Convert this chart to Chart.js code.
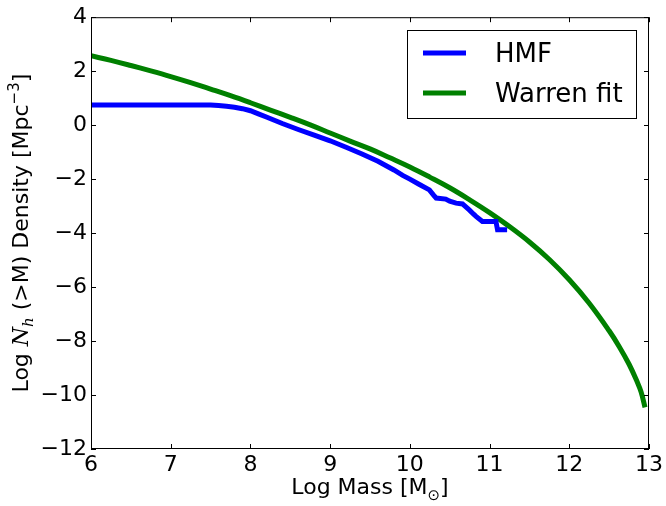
<!DOCTYPE html>
<html>
<head>
<meta charset="utf-8">
<script src="https://cdn.jsdelivr.net/npm/chart.js@4"></script>
<style>
  body { margin: 0; background: #fff; }
  canvas { display: block; }
</style>
</head>
<body>
<canvas id="hmfChart" width="666" height="506"></canvas>
<script>
// HMF (measured) - log mass vs log cumulative density
const hmfMass = [6.0, 7.0, 7.5, 7.6, 7.7, 7.8, 7.9, 8.0, 8.1, 8.2, 8.4, 8.6, 8.8, 9.0, 9.2, 9.4, 9.6, 9.8, 9.91, 10.0, 10.12, 10.245, 10.3, 10.33, 10.45, 10.5, 10.58, 10.66, 10.745, 10.8, 10.83, 10.91, 11.08, 11.1, 11.22];
const hmfDensity = [0.75, 0.75, 0.745, 0.73, 0.70, 0.665, 0.61, 0.535, 0.42, 0.30, 0.06, -0.16, -0.37, -0.58, -0.82, -1.07, -1.34, -1.66, -1.86, -2.0, -2.2, -2.40, -2.60, -2.70, -2.74, -2.82, -2.89, -2.92, -3.14, -3.30, -3.38, -3.57, -3.57, -3.88, -3.88];

// Warren fit
const warrenMass = [6.0, 6.25, 6.5, 6.75, 7.0, 7.25, 7.5, 7.75, 8.0, 8.25, 8.5, 8.75, 9.0, 9.25, 9.5, 9.75, 10.0, 10.25, 10.5, 10.75, 11.0, 11.25, 11.5, 11.75, 12.0, 12.25, 12.5, 12.625, 12.75, 12.85, 12.9, 12.95];
const warrenDensity = [2.57, 2.40, 2.21, 2.01, 1.80, 1.575, 1.335, 1.09, 0.83, 0.56, 0.29, 0.01, -0.29, -0.59, -0.88, -1.21, -1.55, -1.925, -2.32, -2.765, -3.24, -3.76, -4.33, -4.98, -5.73, -6.6, -7.62, -8.2, -8.86, -9.5, -9.88, -10.46];

const xTicks = [6, 7, 8, 9, 10, 11, 12, 13];
const yTicks = [-12, -10, -8, -6, -4, -2, 0, 2, 4];

const seriesLabels = ['HMF', 'Warren fit'];
const seriesColors = ['#0000ff', '#008000'];

const FONT = '"DejaVu Sans", sans-serif';

function minusSign(v) {
    return v < 0 ? '\u2212' + Math.abs(v) : String(v);
}

// draw a run of text pieces [text, font, dy] left to right
function drawPieces(ctx, pieces, x, y) {
    let cx = x;
    pieces.forEach(p => {
        ctx.font = p[1];
        ctx.fillText(p[0], cx, y + (p[2] || 0));
        cx += ctx.measureText(p[0]).width;
    });
}
function piecesWidth(ctx, pieces) {
    let w = 0;
    pieces.forEach(p => { ctx.font = p[1]; w += ctx.measureText(p[0]).width; });
    return w;
}

const mplLook = {
    id: 'mplLook',
    afterDatasetsDraw(chart) {
        const { ctx, chartArea: a, scales: { x, y } } = chart;
        ctx.save();
        ctx.strokeStyle = '#000';
        ctx.lineWidth = 1;
        ctx.strokeRect(a.left + 0.5, a.top + 0.5, a.right - a.left - 1, a.bottom - a.top - 1);

        // inward ticks on all four sides
        ctx.beginPath();
        xTicks.forEach(v => {
            const px = Math.round(x.getPixelForValue(v)) + 0.5;
            ctx.moveTo(px, a.bottom); ctx.lineTo(px, a.bottom - 5);
            ctx.moveTo(px, a.top); ctx.lineTo(px, a.top + 5);
        });
        yTicks.forEach(v => {
            const py = Math.round(y.getPixelForValue(v)) + 0.5;
            ctx.moveTo(a.left, py); ctx.lineTo(a.left + 5, py);
            ctx.moveTo(a.right, py); ctx.lineTo(a.right - 5, py);
        });
        ctx.stroke();

        // legend box
        const lx = 407, ly = 30, lw = 229, lh = 88;
        ctx.fillStyle = '#fff';
        ctx.fillRect(lx, ly, lw, lh);
        ctx.strokeRect(lx + 0.5, ly + 0.5, lw, lh);
        chart.data.datasets.forEach((ds, i) => {
            const rowY = 53 + i * 40;
            ctx.strokeStyle = ds.borderColor;
            ctx.lineWidth = 5;
            ctx.beginPath();
            ctx.moveTo(423, rowY); ctx.lineTo(466, rowY);
            ctx.stroke();
            ctx.fillStyle = '#000';
            ctx.font = '26px ' + FONT;
            ctx.textBaseline = 'alphabetic';
            ctx.fillText(ds.label, 495, rowY + 9);
        });

        // axis titles
        ctx.fillStyle = '#000';
        ctx.textBaseline = 'alphabetic';
        const reg = '22px ' + FONT;
        const small = '15px ' + FONT;
        const ital = 'italic 22px "DejaVu Serif", serif';
        const italSmall = 'italic 15px "DejaVu Serif", serif';

        const xt = [['Log Mass [M', reg], ['\u2299', small, 6], [']', reg]];
        const xw = piecesWidth(ctx, xt);
        drawPieces(ctx, xt, (a.left + a.right) / 2 - xw / 2, 494);

        const yt = [['Log ', reg], ['N', ital], ['h', italSmall, 5], [' (>M) Density [Mpc', reg], ['\u22123', small, -9], [']', reg]];
        const yw = piecesWidth(ctx, yt);
        ctx.translate(28, (a.top + a.bottom) / 2);
        ctx.rotate(-Math.PI / 2);
        drawPieces(ctx, yt, -yw / 2, 0);
        ctx.restore();
    }
};

const ctx = document.getElementById('hmfChart').getContext('2d');
const hmfChart = new Chart(ctx, {
    type: 'line',
    data: {
        datasets: [
            {
                label: seriesLabels[0],
                data: hmfMass.map((m, i) => ({ x: m, y: hmfDensity[i] })),
                borderColor: seriesColors[0],
                borderWidth: 5,
                pointRadius: 0,
                tension: 0,
                fill: false
            },
            {
                label: seriesLabels[1],
                data: warrenMass.map((m, i) => ({ x: m, y: warrenDensity[i] })),
                borderColor: seriesColors[1],
                borderWidth: 5,
                pointRadius: 0,
                tension: 0.4,
                fill: false
            }
        ]
    },
    options: {
        responsive: false,
        animation: false,
        devicePixelRatio: 1,
        layout: { padding: { top: 17, right: 16, left: 0, bottom: 0 } },
        plugins: { legend: { display: false }, tooltip: { enabled: false } },
        scales: {
            x: {
                type: 'linear',
                min: 6, max: 13,
                afterBuildTicks: s => { s.ticks = xTicks.map(v => ({ value: v })); },
                afterFit: s => { s.height = 57; },
                grid: { display: false, drawTicks: false, tickLength: 0 },
                border: { display: false },
                ticks: { color: '#000', font: { family: FONT, size: 22 }, padding: 3, maxRotation: 0, callback: minusSign }
            },
            y: {
                type: 'linear',
                min: -12, max: 4,
                afterBuildTicks: s => { s.ticks = yTicks.map(v => ({ value: v })); },
                afterFit: s => { s.width = 91; },
                grid: { display: false, drawTicks: false, tickLength: 0 },
                border: { display: false },
                ticks: { color: '#000', font: { family: FONT, size: 22 }, padding: 4, callback: minusSign }
            }
        }
    },
    plugins: [mplLook]
});
</script>
</body>
</html>
